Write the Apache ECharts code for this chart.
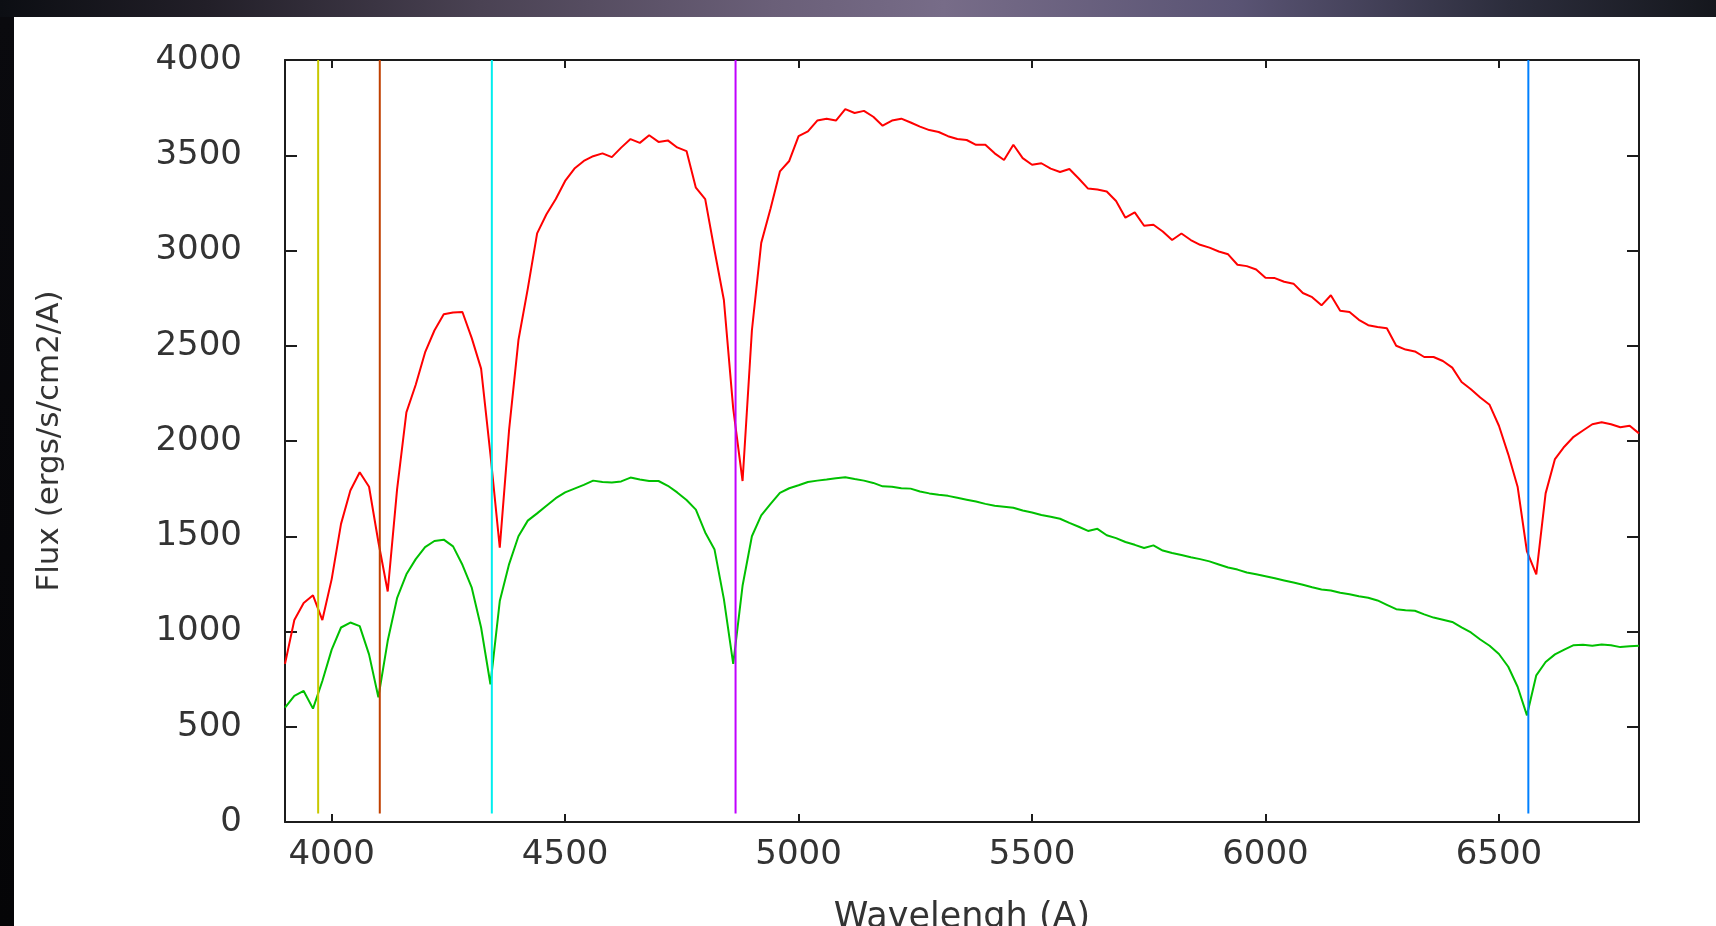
<!DOCTYPE html>
<html>
<head>
<meta charset="utf-8">
<script src="https://cdn.jsdelivr.net/npm/echarts@6/dist/echarts.min.js"></script>
<style>
html,body{margin:0;padding:0;width:1716px;height:926px;overflow:hidden;background:#07070b;}
#strip{position:absolute;left:0;top:0;width:1716px;height:17px;
  background:linear-gradient(90deg,#0c0e13 0%,#221f28 12%,#4a4253 28%,#6a5f78 45%,#776c88 55%,#5a5474 72%,#2c2d3c 88%,#15171d 100%);}
#leftstrip{position:absolute;left:0;top:17px;width:14px;bottom:0;background:linear-gradient(180deg,#0a0a0e,#050507);}
#panel{position:absolute;left:14px;top:17px;right:0;bottom:0;background:#ffffff;}
#chart{position:absolute;left:0;top:0;width:1716px;height:926px;}
</style>
</head>
<body>
<div id="strip"></div><div id="leftstrip"></div><div id="panel"></div>
<div id="chart"></div>
<script>
// ---- data ----
const wavelength = [
 3900,3920,3940,3960,3980,4000,4020,4040,4060,4080,
 4100,4120,4140,4160,4180,4200,4220,4240,4260,4280,
 4300,4320,4340,4360,4380,4400,4420,4440,4460,4480,
 4500,4520,4540,4560,4580,4600,4620,4640,4660,4680,
 4700,4720,4740,4760,4780,4800,4820,4840,4860,4880,
 4900,4920,4940,4960,4980,5000,5020,5040,5060,5080,
 5100,5120,5140,5160,5180,5200,5220,5240,5260,5280,
 5300,5320,5340,5360,5380,5400,5420,5440,5460,5480,
 5500,5520,5540,5560,5580,5600,5620,5640,5660,5680,
 5700,5720,5740,5760,5780,5800,5820,5840,5860,5880,
 5900,5920,5940,5960,5980,6000,6020,6040,6060,6080,
 6100,6120,6140,6160,6180,6200,6220,6240,6260,6280,
 6300,6320,6340,6360,6380,6400,6420,6440,6460,6480,
 6500,6520,6540,6560,6580,6600,6620,6640,6660,6680,
 6700,6720,6740,6760,6780,6800
];
const fluxRed = [
 830,1060,1150,1190,1060,1275,1565,1740,1836,1760,
 1470,1210,1745,2150,2295,2465,2580,2665,2675,2677,
 2540,2380,1930,1440,2060,2530,2800,3090,3190,3270,
 3365,3430,3470,3495,3510,3490,3540,3585,3565,3605,
 3570,3578,3541,3522,3330,3270,3000,2740,2170,1790,
 2580,3040,3220,3415,3470,3600,3625,3682,3692,3682,
 3742,3722,3733,3702,3655,3682,3692,3672,3650,3632,
 3622,3600,3585,3580,3555,3555,3510,3475,3555,3485,
 3450,3458,3430,3412,3428,3378,3325,3320,3310,3260,
 3172,3200,3130,3135,3100,3055,3089,3055,3030,3015,
 2995,2980,2925,2918,2900,2857,2855,2836,2826,2777,
 2755,2712,2765,2684,2677,2636,2608,2598,2592,2500,
 2480,2470,2441,2441,2420,2385,2310,2272,2228,2190,
 2080,1930,1760,1420,1300,1725,1905,1970,2022,2055,
 2088,2098,2088,2072,2080,2040
];
const fluxGreen = [
 600,662,688,595,740,905,1021,1047,1028,880,
 655,951,1175,1300,1380,1443,1475,1482,1447,1350,
 1230,1021,723,1160,1354,1500,1582,1620,1660,1700,
 1730,1750,1770,1792,1785,1782,1788,1808,1798,1790,
 1790,1765,1730,1690,1640,1520,1430,1170,830,1240,
 1500,1610,1670,1728,1752,1768,1785,1792,1798,1805,
 1810,1800,1792,1780,1762,1760,1752,1750,1735,1725,
 1718,1712,1702,1692,1682,1670,1660,1655,1650,1635,
 1625,1612,1602,1592,1570,1550,1528,1539,1505,1490,
 1470,1455,1438,1452,1425,1412,1402,1390,1380,1368,
 1352,1336,1325,1310,1300,1290,1279,1268,1257,1245,
 1232,1220,1215,1203,1196,1185,1177,1163,1140,1117,
 1112,1109,1090,1073,1062,1050,1022,995,958,925,
 882,815,710,560,770,840,880,905,928,930,
 925,932,928,918,922,925
];
const markerWavelengths = [3971, 4103, 4343, 4865, 6563];
const markerFluxRange = [45, 4000];
const xTicks = [4000, 4500, 5000, 5500, 6000, 6500];
const yTicks = [0, 500, 1000, 1500, 2000, 2500, 3000, 3500, 4000];
const xName = 'Wavelengh (A)';
const yName = 'Flux (ergs/s/cm2/A)';

// ---- styles ----
const markerColors = ['#c8c800', '#c04000', '#00eeee', '#c000ff', '#0080ff'];
const axisColor = '#1c1c1c';
const txt = {fontFamily: 'DejaVu Sans', color: '#333333'};
const plain = v => String(v);

function pairs(xs, ys) { return xs.map((x, i) => [x, ys[i]]); }

const chart = echarts.init(document.getElementById('chart'), null, {renderer: 'canvas'});

const baseX = {
  type: 'value', min: 3900, max: 6800,
  splitLine: {show: false},
  axisLine: {show: true, onZero: false, lineStyle: {color: axisColor, width: 2}},
  axisTick: {show: true, inside: true, length: 8, customValues: xTicks, lineStyle: {color: axisColor, width: 2}}
};
const baseY = {
  type: 'value', min: yTicks[0], max: yTicks[yTicks.length - 1], interval: 500,
  splitLine: {show: false},
  axisLine: {show: true, onZero: false, lineStyle: {color: axisColor, width: 2}},
  axisTick: {show: true, inside: true, length: 12, lineStyle: {color: axisColor, width: 2}}
};

const series = [
  {name: 'red', type: 'line', data: pairs(wavelength, fluxRed), showSymbol: false, silent: true,
   lineStyle: {color: '#ff0000', width: 2}},
  {name: 'green', type: 'line', data: pairs(wavelength, fluxGreen), showSymbol: false, silent: true,
   lineStyle: {color: '#00c000', width: 2}}
];
markerWavelengths.forEach((w, i) => {
  series.push({type: 'line', data: markerFluxRange.map(f => [w, f]), showSymbol: false, silent: true,
    lineStyle: {color: markerColors[i], width: 2}});
});

chart.setOption({
  animation: false,
  backgroundColor: 'transparent',
  grid: {left: 285, right: 77, top: 60, bottom: 104, containLabel: false, outerBoundsMode: 'none'},
  xAxis: [
    Object.assign({}, baseX, {
      position: 'bottom',
      axisLabel: Object.assign({customValues: xTicks, margin: 16, fontSize: 34, formatter: plain}, txt),
      name: xName, nameLocation: 'middle', nameGap: 78, nameMoveOverlap: false,
      nameTextStyle: Object.assign({fontSize: 35}, txt)
    }),
    Object.assign({}, baseX, {position: 'top', axisLabel: {show: false}})
  ],
  yAxis: [
    Object.assign({}, baseY, {
      position: 'left',
      axisLabel: Object.assign({margin: 43, fontSize: 34, formatter: plain}, txt),
      name: yName, nameLocation: 'middle', nameGap: 220, nameMoveOverlap: false,
      nameTextStyle: Object.assign({fontSize: 31}, txt)
    }),
    Object.assign({}, baseY, {position: 'right', axisLabel: {show: false}})
  ],
  series: series
});
</script>
</body>
</html>
